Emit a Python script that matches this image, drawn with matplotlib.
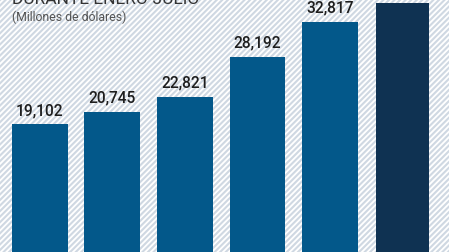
import matplotlib
matplotlib.use("Agg")
import matplotlib.pyplot as plt
from matplotlib.patches import Rectangle
import numpy as np

# Data (millones de dólares), enero-julio
values = [19102, 20745, 22821, 28192, 32817, 35300]
labels = ["19,102", "20,745", "22,821", "28,192", "32,817"]  # last label is cut off in the source
colors = ["#03588a", "#03588a", "#03588a", "#03588a", "#03588a", "#0f3252"]
widths = [0.77, 0.77, 0.77, 0.77, 0.77, 0.73]

title = "DURANTE ENERO-JULIO"
subtitle = "(Millones de dólares)"

fam = ["Roboto", "DejaVu Sans"]
plt.rcParams["font.family"] = fam
plt.rcParams["hatch.linewidth"] = 1.5

fig = plt.figure(figsize=(4.49, 2.52), dpi=100)
fig.patch.set_facecolor("white")
bg = Rectangle((0, 0), 1, 1, transform=fig.transFigure, facecolor="white",
               edgecolor="#cfd8e2", hatch="//////", linewidth=0, zorder=-10)
fig.patches.append(bg)

ax = fig.add_axes([0, 0, 1, 1])
ax.patch.set_alpha(0)
x = np.arange(len(values))
ax.bar(x, values, width=widths, color=colors, zorder=2)
for xi, v, lab in zip(x, values, labels):
    ax.annotate(lab, (xi, v), xytext=(0, 4.5), textcoords="offset points",
                ha="center", va="bottom", fontsize=11.2, color="#1e1e1e",
                fontweight="medium", family=fam)

ax.set_xlim(-0.547, 5.638)
ax.set_ylim(2004, 35767)
ax.axis("off")

fig.text(12 / 449, 1 - 4 / 252, title, ha="left", va="baseline",
         fontsize=12.5, color="#333333", family=fam)
fig.text(12 / 449, 1 - 17 / 252, subtitle, ha="left", va="center",
         fontsize=8.8, color="#555555", family=fam)

fig.savefig("out.png", dpi=100)
